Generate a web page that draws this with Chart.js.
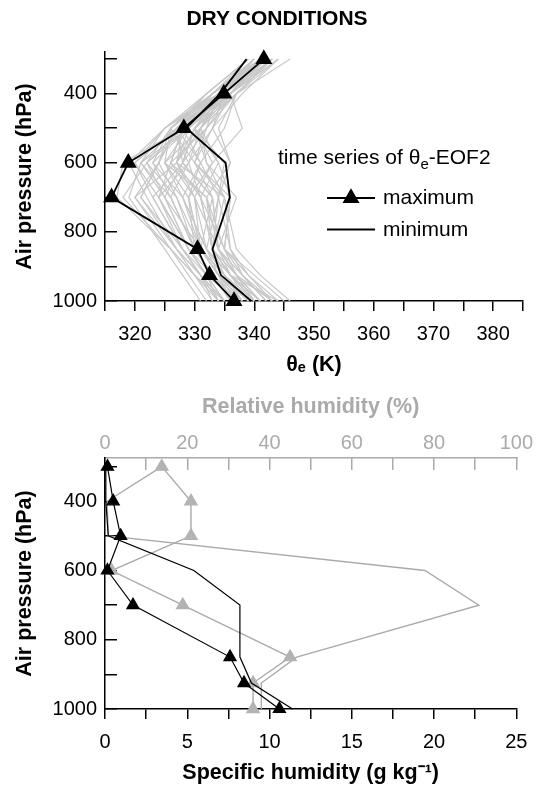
<!DOCTYPE html>
<html>
<head>
<meta charset="utf-8">
<script src="https://cdn.jsdelivr.net/npm/chart.js@4.4.0/dist/chart.umd.min.js"></script>
<style>
  html, body { margin: 0; padding: 0; background: #fff; overflow: hidden; }
  #wrapTop { position: absolute; left: 0; top: 0; width: 548px; height: 385px; }
  #wrapBottom { position: absolute; left: 0; top: 385px; width: 548px; height: 402px; }
</style>
</head>
<body>
<div id="wrapTop"><canvas id="thetaChart"></canvas></div>
<div id="wrapBottom"><canvas id="humidityChart"></canvas></div>
<script>
// pressure levels (hPa) of every profile
var levels = [300, 400, 500, 600, 700, 850, 925, 1000];

// theta-e (K) for the extreme EOF2 time series
var thetaMax = [341.6, 334.9, 328.2, 318.9, 316.1, 330.5, 332.5, 336.6];
var thetaMin = [338.7, 334.3, 328.6, 335.2, 335.9, 333.0, 334.4, 339.5];

// the single grey profiles (K)
var thetaSeries = [
    [340, 333, 326, 322, 325, 329, 332, 334],
    [341, 334, 327, 324, 321, 327, 331, 335],
    [342, 335, 329, 327, 330, 331, 334, 338],
    [339, 332, 325, 320, 323, 328, 331, 333],
    [343, 336, 330, 328, 333, 334, 337, 341],
    [341, 335, 331, 334, 336, 335, 338, 342],
    [340, 334, 328, 318, 317, 326, 329, 332],
    [342, 336, 333, 329, 326, 330, 333, 337],
    [344, 337, 334, 336, 332, 333, 336, 340],
    [339, 333, 326, 325, 329, 331, 335, 339],
    [341, 334, 327, 321, 319, 325, 328, 331],
    [342, 335, 328, 331, 334, 336, 339, 343],
    [340, 333, 329, 323, 328, 332, 334, 336],
    [343, 337, 332, 326, 324, 329, 332, 335],
    [341, 336, 338, 333, 330, 334, 337, 340],
    [346, 337, 330, 327, 335, 337, 341, 346],
    [340, 334, 325, 319, 322, 327, 330, 333],
    [342, 335, 330, 332, 337, 334, 336, 339],
    [341, 333, 327, 324, 327, 330, 333, 337],
    [343, 336, 331, 329, 331, 333, 336, 344],
    [339, 332, 326, 330, 333, 331, 334, 338],
    [342, 334, 328, 322, 318, 326, 330, 334],
    [341, 335, 329, 325, 332, 335, 340, 345],
    [340, 334, 327, 328, 323, 328, 331, 335],
    [343, 337, 335, 331, 328, 331, 335, 340],
    [341, 336, 330, 335, 334, 332, 335, 338],
    [342, 334, 326, 323, 326, 330, 333, 336],
    [340, 335, 331, 327, 320, 327, 331, 334],
    [344, 338, 333, 330, 335, 336, 338, 342],
    [341, 333, 325, 321, 325, 329, 332, 335],
    [342, 336, 330, 334, 331, 333, 337, 341],
    [340, 333, 328, 326, 330, 332, 336, 340],
    [343, 335, 327, 324, 321, 328, 332, 337],
    [341, 334, 332, 328, 333, 334, 337, 343],
    [339, 332, 327, 331, 329, 330, 333, 336],
    [342, 336, 329, 322, 327, 331, 334, 339],
    [341, 335, 333, 336, 334, 333, 335, 338],
    [340, 333, 326, 329, 324, 328, 331, 334],
    [343, 337, 331, 325, 328, 332, 336, 341],
    [341, 334, 328, 327, 331, 335, 339, 344],
    [342, 335, 327, 320, 324, 329, 333, 338],
    [340, 334, 330, 333, 329, 331, 334, 337],
    [343, 336, 328, 326, 332, 334, 338, 343],
    [341, 333, 326, 324, 320, 326, 330, 335],
    [342, 336, 332, 330, 336, 335, 337, 340],
    [340, 335, 329, 321, 326, 330, 333, 336],
    [344, 336, 330, 328, 325, 331, 335, 339],
    [341, 334, 331, 332, 335, 333, 336, 341]
];

// specific humidity (g/kg) and relative humidity (%)
var qMax = [0.15, 0.5, 0.95, 0.15, 1.7, 7.6, 8.45, 10.6];
var qMin = [0.05, 0.05, 0.2, 5.4, 8.2, 8.2, 8.9, 11.4];
var rhMax = [13.8, 20.9, 20.9, 1.6, 18.9, 45.0, 36.0, 36.0];
var rhMin = [13.8, 0.5, 0.8, 77.8, 90.9, 46.6, 38.0, 38.0];

// ticks and tick labels
var pressureTicks = [300, 400, 500, 600, 700, 800, 900, 1000];
var pressureLabels = [400, 600, 800, 1000];
var thetaTicks = [315, 320, 325, 330, 335, 340, 345, 350, 355, 360, 365, 370, 375, 380, 385];
var thetaLabels = [320, 330, 340, 350, 360, 370, 380];
var qTicks = [0, 2.5, 5, 7.5, 10, 12.5, 15, 17.5, 20, 22.5, 25];
var qLabels = [0, 5, 10, 15, 20, 25];
var rhTicks = [0, 10, 20, 30, 40, 50, 60, 70, 80, 90, 100];
var rhLabels = [0, 20, 40, 60, 80, 100];

var FONT = '"Liberation Sans", Arial, Helvetica, sans-serif';
var GREY = '#aaaaaa';
Chart.defaults.font.family = FONT;
Chart.defaults.color = '#000';

function toPoints(values) {
    return values.map(function (v, i) { return {x: v, y: levels[i]}; });
}

function fixedTicks(list) {
    return function (scale) {
        scale.ticks = list.map(function (v) { return {value: v}; });
    };
}

function onlyLabels(list) {
    return function (value) {
        return list.indexOf(value) >= 0 ? String(value) : '';
    };
}

function pressureAxis(min) {
    return {
        type: 'linear',
        position: 'left',
        reverse: true,
        min: min,
        max: 1000,
        afterBuildTicks: fixedTicks(pressureTicks),
        afterFit: function (s) { s.width = 99; },
        grid: {drawOnChartArea: false, tickLength: -12, color: '#000', lineWidth: 1.5},
        border: {color: '#000', width: 1.5},
        ticks: {padding: 20, font: {size: 20}, color: '#000', autoSkip: false, callback: onlyLabels(pressureLabels)},
        title: {display: true, text: 'Air pressure (hPa)', color: '#000',
            font: {size: 21.5, weight: 'bold'}, padding: {top: 6, bottom: 0}}
    };
}

// empty right axis: keeps a margin without shifting the title
var spacerAxis = {
    type: 'linear',
    position: 'right',
    grid: {display: false},
    border: {display: false},
    ticks: {display: false},
    afterFit: function (s) { s.width = 25; }
};

var legendPlugin = {
    id: 'profileLegend',
    afterDraw: function (chart) {
        var ctx = chart.ctx;
        var maxSet = chart.data.datasets[0];
        var minSet = chart.data.datasets[1];
        ctx.save();
        ctx.fillStyle = '#000';
        ctx.textBaseline = 'alphabetic';
        ctx.font = '21px ' + FONT;
        var x = 278, y = 164;
        ctx.fillText('time series of θ', x, y);
        x += ctx.measureText('time series of θ').width;
        ctx.font = '15px ' + FONT;
        ctx.fillText('e', x, y + 5);
        x += ctx.measureText('e').width;
        ctx.font = '21px ' + FONT;
        ctx.fillText('-EOF2', x, y);

        var rows = [[maxSet, 198, 'maximum'], [minSet, 229.5, 'minimum']];
        rows.forEach(function (row) {
            var ds = row[0], ry = row[1];
            ctx.strokeStyle = ds.borderColor;
            ctx.lineWidth = ds.borderWidth;
            ctx.beginPath();
            ctx.moveTo(327, ry);
            ctx.lineTo(375, ry);
            ctx.stroke();
            if (ds.pointRadius > 0) {
                ctx.fillStyle = ds.pointBackgroundColor;
                Chart.helpers.drawPoint(ctx, {pointStyle: 'triangle', radius: ds.pointRadius, rotation: 0, borderWidth: 1}, 351, ry);
            }
            ctx.fillStyle = '#000';
            ctx.font = '21px ' + FONT;
            ctx.fillText(row[2], 383, ry + 6);
        });
        ctx.restore();
    }
};

var topDatasets = [
    {label: 'maximum', data: toPoints(thetaMax), borderColor: '#000', borderWidth: 1.8,
        pointStyle: 'triangle', pointRadius: 8, pointBackgroundColor: '#000', pointBorderColor: '#000', clip: false},
    {label: 'minimum', data: toPoints(thetaMin), borderColor: '#000', borderWidth: 1.8, pointRadius: 0, clip: false}
].concat(thetaSeries.map(function (s) {
    return {data: toPoints(s), borderColor: '#c8c8c8', borderWidth: 1.2, pointRadius: 0, clip: false};
}));

new Chart(document.getElementById('thetaChart').getContext('2d'), {
    type: 'line',
    data: {datasets: topDatasets},
    plugins: [legendPlugin],
    options: {
        responsive: true,
        maintainAspectRatio: false,
        animation: false,
        events: [],
        layout: {padding: {left: 6, right: 0, top: 0, bottom: 0}},
        plugins: {
            legend: {display: false},
            tooltip: {enabled: false},
            title: {display: true, text: 'DRY CONDITIONS', color: '#000',
                font: {size: 21, weight: 'bold'}, padding: {top: 7, bottom: 20}}
        },
        scales: {
            x: {
                type: 'linear',
                position: 'bottom',
                min: 315,
                max: 385,
                afterBuildTicks: fixedTicks(thetaTicks),
                afterFit: function (s) { s.height = 84; },
                grid: {drawOnChartArea: false, tickLength: 10, color: '#000', lineWidth: 1.5},
                border: {color: '#000', width: 1.5},
                ticks: {padding: 11, font: {size: 20}, color: '#000', autoSkip: false, maxRotation: 0, callback: onlyLabels(thetaLabels)},
                title: {display: true, text: 'θₑ (K)', color: '#000',
                    font: {size: 21.5, weight: 'bold'}, padding: {top: 0, bottom: 7}}
            },
            y: pressureAxis(280),
            r: spacerAxis
        }
    }
});

var bottomDatasets = [
    {data: toPoints(qMax), xAxisID: 'x', borderColor: '#000', borderWidth: 1.2,
        pointStyle: 'triangle', pointRadius: 7, pointBackgroundColor: '#000', pointBorderColor: '#000', clip: false},
    {data: toPoints(qMin), xAxisID: 'x', borderColor: '#000', borderWidth: 1.2, pointRadius: 0, clip: false},
    {data: toPoints(rhMax), xAxisID: 'x2', borderColor: GREY, borderWidth: 1.4,
        pointStyle: 'triangle', pointRadius: 7, pointBackgroundColor: '#b3b3b3', pointBorderColor: '#b3b3b3', clip: false},
    {data: toPoints(rhMin), xAxisID: 'x2', borderColor: GREY, borderWidth: 1.4, pointRadius: 0, clip: false}
];

new Chart(document.getElementById('humidityChart').getContext('2d'), {
    type: 'line',
    data: {datasets: bottomDatasets},
    options: {
        responsive: true,
        maintainAspectRatio: false,
        animation: false,
        events: [],
        layout: {padding: {left: 6, right: 0, top: 0, bottom: 0}},
        plugins: {
            legend: {display: false},
            tooltip: {enabled: false}
        },
        scales: {
            x: {
                type: 'linear',
                position: 'bottom',
                min: 0,
                max: 25,
                afterBuildTicks: fixedTicks(qTicks),
                afterFit: function (s) { s.height = 78; },
                grid: {drawOnChartArea: false, tickLength: 10, color: '#000', lineWidth: 1.5},
                border: {color: '#000', width: 1.5},
                ticks: {padding: 11, font: {size: 20}, color: '#000', autoSkip: false, maxRotation: 0, callback: onlyLabels(qLabels)},
                title: {display: true, text: 'Specific humidity (g kg⁻¹)', color: '#000',
                    font: {size: 21.5, weight: 'bold'}, padding: {top: 0, bottom: 1}}
            },
            x2: {
                type: 'linear',
                position: 'top',
                min: 0,
                max: 100,
                afterBuildTicks: fixedTicks(rhTicks),
                afterFit: function (s) { s.height = 73; },
                grid: {drawOnChartArea: false, tickLength: -12, color: GREY, lineWidth: 1.5},
                border: {color: GREY, width: 1.5},
                ticks: {padding: 15, font: {size: 20}, color: GREY, autoSkip: false, maxRotation: 0, callback: onlyLabels(rhLabels)},
                title: {display: true, text: 'Relative humidity (%)', color: GREY,
                    font: {size: 21.5, weight: 'bold'}, padding: {top: 9, bottom: 0}}
            },
            y: pressureAxis(275),
            r: spacerAxis
        }
    }
});
</script>
</body>
</html>
